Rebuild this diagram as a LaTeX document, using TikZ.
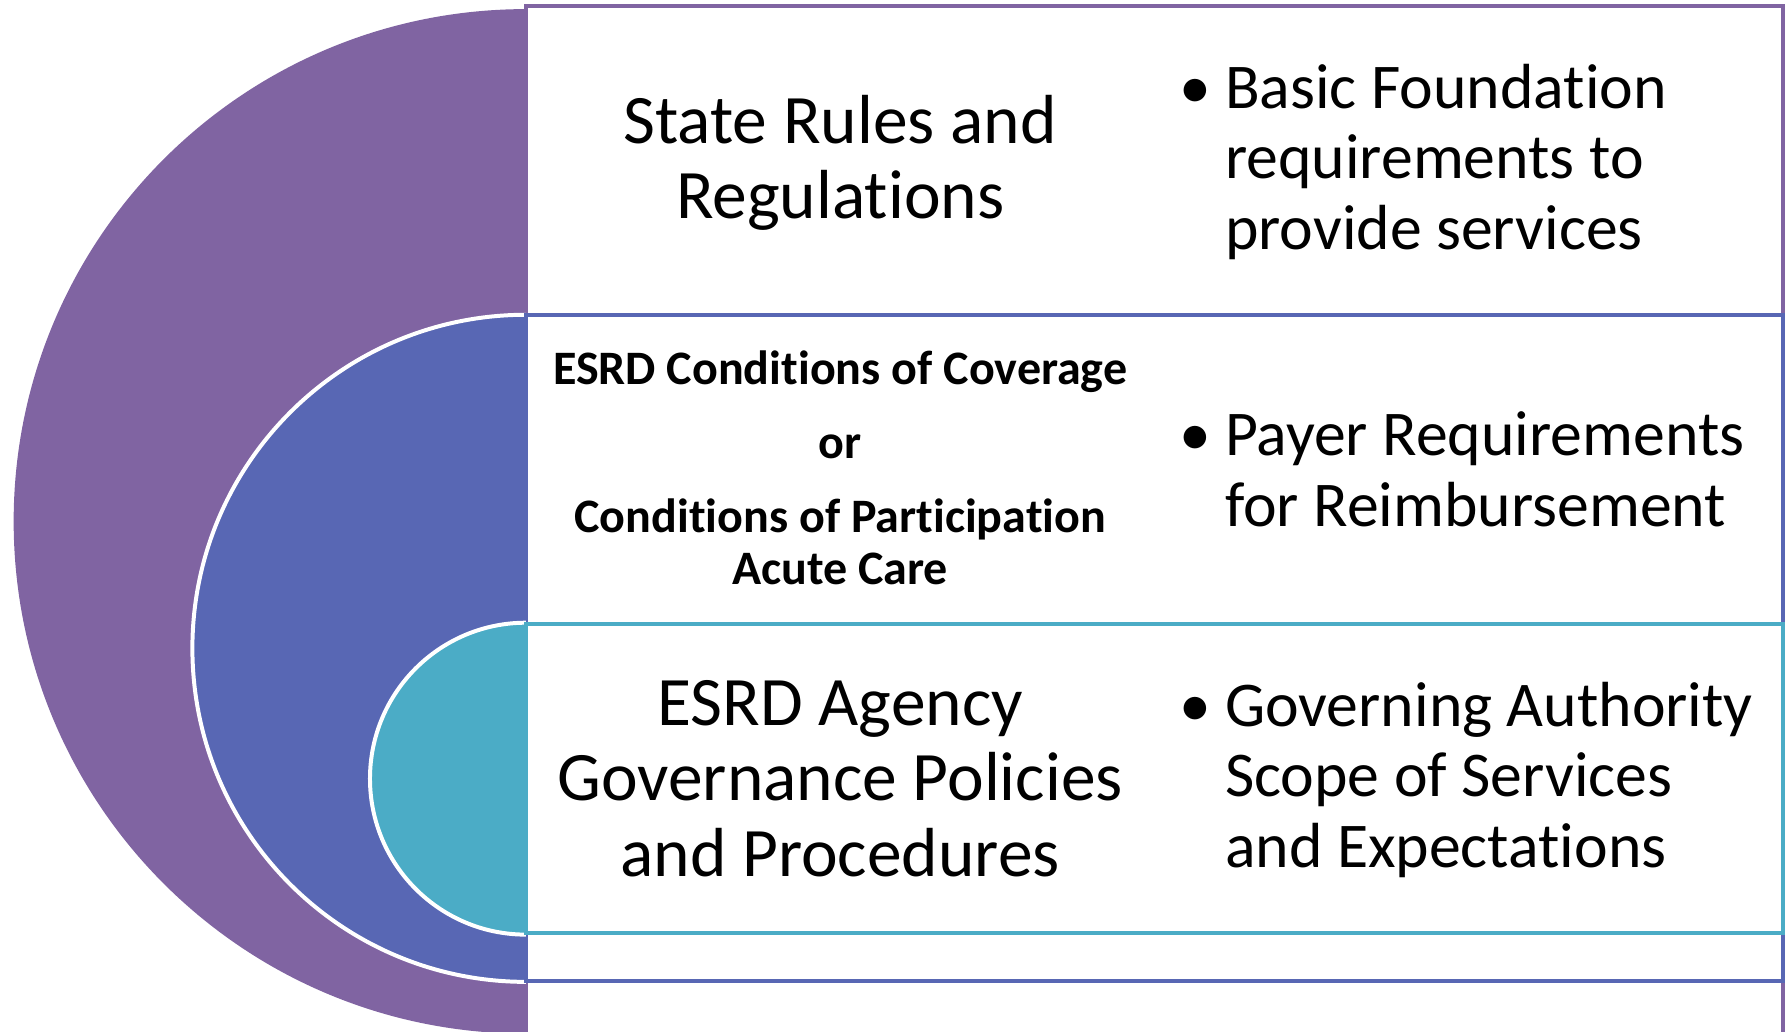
\documentclass[tikz,border=0pt]{standalone}
\usepackage{fontspec}
\setmainfont[RawFeature={-liga;-clig;-calt;-dlig}]{Carlito}
\definecolor{cpurple}{HTML}{8064A2}
\definecolor{cblue}{HTML}{5867B4}
\definecolor{cteal}{HTML}{4BACC6}
\begin{document}
\begin{tikzpicture}[x=1pt,y=-1pt,
  band/.style={fill=white,line width=3.5pt},
  half/.style={draw=white,line width=3.5pt},
  bigtxt/.style={align=center,font=\fontsize{61}{66}\selectfont,inner sep=0pt},
  boldtxt/.style={align=center,font=\bfseries\fontsize{42.2}{45}\selectfont,inner sep=0pt},
  bultxt/.style={align=left,font=\fontsize{56}{62}\selectfont,inner sep=0pt,anchor=west}]
\useasboundingbox (0,0) rectangle (1568,906.5);
\begin{scope}
\clip (0,0) rectangle (1568,906.5);
% purple level
\begin{scope}\clip (-10,-10) rectangle (462,920);
\fill[cpurple] (462,458) circle (450);
\end{scope}
\draw[band,draw=cpurple] (462,5) rectangle (1566,960);
% blue level
\begin{scope}\clip (-10,-10) rectangle (462,920);
\fill[cblue,half] (462,569.5) circle (293);
\end{scope}
\draw[band,draw=cblue] (462,277) rectangle (1566,862);
% teal level
\begin{scope}\clip (-10,-10) rectangle (462,920);
\fill[cteal,half] (462,684) circle (137);
\end{scope}
\draw[band,draw=cteal] (462,548) rectangle (1566,820);
\end{scope}
% texts
\node[bigtxt] (t1) at (738,143) {State Rules and\\Regulations};
\node[boldtxt] (t2) at (738,411) {ESRD Conditions of Coverage\\[20pt]or\\[20pt]Conditions of Participation\\Acute Care};
\node[bigtxt] (t3) at (738,684) {ESRD Agency\\Governance Policies\\and Procedures};
\node[bultxt] (b1) at (1036,142) {\makebox[40pt][l]{•}Basic Foundation\\\hspace*{40pt}requirements to\\\hspace*{40pt}provide services};
\node[bultxt] (b2) at (1036,412) {\makebox[40pt][l]{•}Payer Requirements\\\hspace*{40pt}for Reimbursement};
\node[bultxt] (b3) at (1036,685) {\makebox[40pt][l]{•}Governing Authority\\\hspace*{40pt}Scope of Services\\\hspace*{40pt}and Expectations};
\end{tikzpicture}
\end{document}
